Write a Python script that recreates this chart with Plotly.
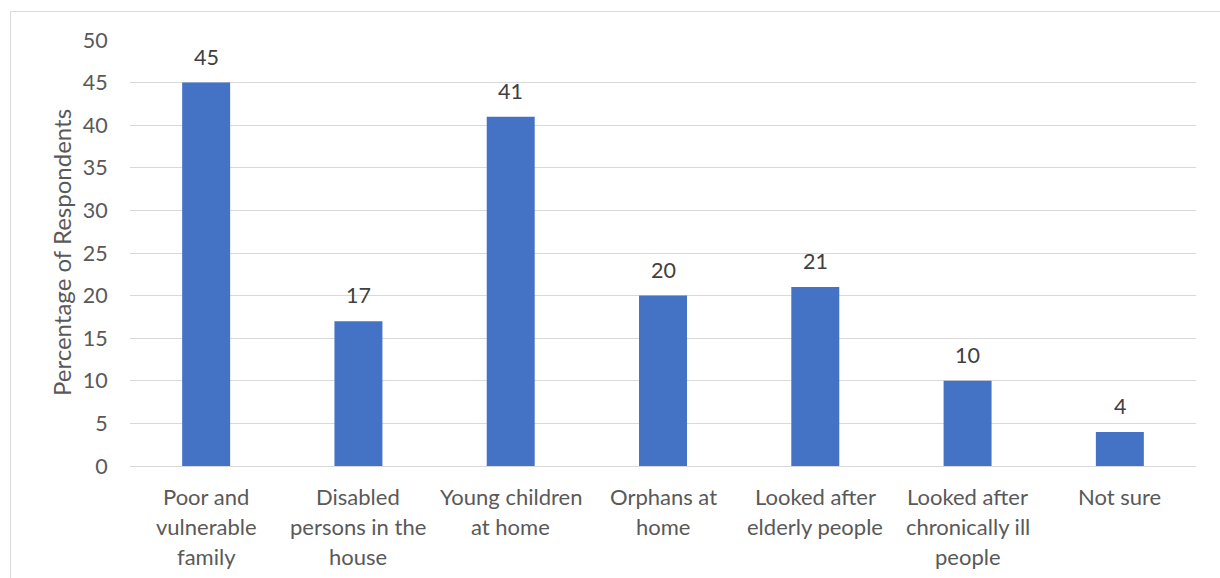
import plotly.graph_objects as go

# Survey categories (each entry split into its display lines) and shares in percent
categories = [
    "Poor and vulnerable family",
    "Disabled persons in the house",
    "Young children at home",
    "Orphans at home",
    "Looked after elderly people",
    "Looked after chronically ill people",
    "Not sure",
]
category_lines = [
    ["Poor and", "vulnerable", "family"],
    ["Disabled", "persons in the", "house"],
    ["Young children", "at home"],
    ["Orphans at", "home"],
    ["Looked after", "elderly people"],
    ["Looked after", "chronically ill", "people"],
    ["Not sure"],
]
percentages = [45, 17, 41, 20, 21, 10, 4]
y_ticks = [0, 5, 10, 15, 20, 25, 30, 35, 40, 45, 50]

FONT = "Lato, 'Open Sans', sans-serif"
TEXT_COLOR = "#595959"
BAR_COLOR = "#4472C4"
GRID_COLOR = "#D9D9D9"

L, R, T, B = 130, 24, 40, 112
W, H = 1220, 578
plot_w = W - L - R
plot_h = H - T - B

fig = go.Figure()
fig.add_trace(go.Bar(
    x=categories,
    y=percentages,
    marker=dict(color=BAR_COLOR, line=dict(width=0)),
    hoverinfo="x+y",
))

annotations = []
# value labels above each bar
for cat, val in zip(categories, percentages):
    annotations.append(dict(
        x=cat, y=val, xref="x", yref="y", text=str(val), showarrow=False,
        yanchor="middle", yshift=26, font=dict(family=FONT, size=21.5, color="#404040"),
    ))
# multi-line category labels under the axis
for cat, lines in zip(categories, category_lines):
    for i, line in enumerate(lines):
        annotations.append(dict(
            x=cat, y=0, xref="x", yref="paper", text=line, showarrow=False,
            yanchor="middle", yshift=-30 - 30 * i,
            font=dict(family=FONT, size=22, color=TEXT_COLOR),
        ))
# y-axis title
annotations.append(dict(
    x=(61 - L) / plot_w, y=0.5, xref="paper", yref="paper",
    text="Percentage of Respondents", textangle=-90, showarrow=False,
    xanchor="center", yanchor="middle",
    font=dict(family=FONT, size=24, color=TEXT_COLOR),
))

fig.update_layout(
    width=W, height=H,
    margin=dict(l=L, r=R, t=T, b=B),
    paper_bgcolor="white", plot_bgcolor="white",
    showlegend=False,
    bargap=0.685,
    annotations=annotations,
    shapes=[dict(
        type="rect", xref="paper", yref="paper",
        x0=(10.5 - L) / plot_w, x1=(W + 10 - L) / plot_w,
        y0=-(H + 10 - T - plot_h) / plot_h,
        y1=(plot_h + T - 11.5) / plot_h,
        line=dict(color=GRID_COLOR, width=1), fillcolor="rgba(0,0,0,0)", layer="below",
    )],
    xaxis=dict(
        showticklabels=False, ticks="", showgrid=False,
        showline=False, zeroline=False,
    ),
    yaxis=dict(
        range=[0, 50], tickvals=y_ticks, ticktext=[str(v) for v in y_ticks],
        showgrid=True, gridcolor=GRID_COLOR, gridwidth=1,
        zeroline=True, zerolinecolor=GRID_COLOR, zerolinewidth=1,
        showline=False, ticks="outside", ticklen=17, tickcolor="rgba(0,0,0,0)",
        tickfont=dict(family=FONT, size=21.5, color=TEXT_COLOR),
    ),
)

fig.write_html("out.html")
